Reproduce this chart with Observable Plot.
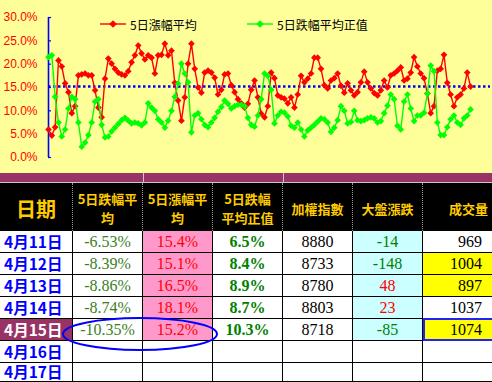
<!DOCTYPE html>
<html><head><meta charset="utf-8">
<script src="https://cdn.jsdelivr.net/npm/d3@7"></script>
<script src="https://cdn.jsdelivr.net/npm/@observablehq/plot@0.6"></script>
<style>
body{margin:0;width:492px;height:382px;overflow:hidden;position:relative;background:#fff;}
#chart{position:absolute;left:0;top:0;}
.leg{position:absolute;top:16px;height:16px;font:12px "Noto Sans CJK TC",sans-serif;color:#000;display:flex;align-items:center;white-space:nowrap;}
.cell{position:absolute;box-sizing:border-box;display:flex;align-items:center;justify-content:center;white-space:nowrap;}
.hd{background:#000;color:#FFCC00;font:bold 13px/19px "Noto Sans CJK TC",sans-serif;text-align:center;border-right:1px dotted #9a9a9a;padding-top:2px;}
.bd{border-right:1px solid #000;border-bottom:1px solid #000;font:16px/1 "Liberation Serif","Times New Roman",serif;}
</style></head>
<body>
<div id="chart"></div>
<script>
// ---- chart data (percent) ----
const riseAvg = [6.0,4.7,6.5,20.8,19.5,15.9,14.0,9.5,11.0,17.6,17.8,18.0,17.6,17.6,14.4,10.7,8.6,16.9,21.2,20.1,19.0,18.2,17.8,17.6,18.5,20.4,21.9,24.0,22.3,21.0,21.9,21.4,18.0,21.9,22.0,24.4,21.9,22.9,16.0,12.2,7.9,12.9,20.1,24.4,19.0,15.0,13.9,18.2,18.6,18.2,17.1,13.5,14.5,17.8,18.0,15.5,14.0,12.5,
  11.6,10.7,11.5,14.5,16.5,12.9,9.4,8.6,11.0,18.2,17.0,13.3,12.9,12.6,11.6,12.9,10.7,13.5,17.5,16.1,16.9,18.0,21.4,21.4,19.0,15.5,14.8,16.5,17.0,18.0,15.4,13.9,15.9,14.4,13.3,14.0,16.1,18.4,16.1,14.8,13.8,13.3,14.4,16.5,15.0,17.6,18.0,18.6,19.3,16.5,16.9,18.2,21.5,19.5,18.0,17.0,13.7,9.5,11.0,18.6,19.0,22.0,16.0,13.5,11.0,12.9,13.5,14.8,18.2,15.2];
const fallAvgAbs = [21.5,21.9,13.0,7.5,4.5,6.0,10.5,13.0,12.5,7.5,2.3,3.2,4.8,7.5,12.0,12.5,7.0,4.3,4.5,5.6,6.4,7.2,8.0,8.5,7.9,7.3,7.5,7.3,6.9,7.5,11.6,10.7,10.0,8.2,7.5,6.4,7.9,10.0,13.0,15.8,20.1,18.0,16.1,5.4,9.0,9.5,8.2,7.0,6.5,7.5,8.5,9.8,10.8,12.2,11.5,10.5,11.0,11.3,
  11.3,11.0,8.5,7.0,6.6,9.0,12.5,18.0,17.5,14.5,7.3,9.0,9.8,9.6,8.8,6.8,6.4,7.5,6.0,4.5,5.8,6.4,7.0,7.7,8.4,8.2,7.5,5.5,6.4,8.0,11.0,10.0,7.3,7.6,10.0,8.0,7.8,8.0,8.4,8.6,8.4,7.5,7.8,9.5,11.1,13.5,12.5,6.8,6.0,12.0,13.5,10.5,7.8,9.0,9.0,9.6,13.7,19.7,18.5,7.5,4.8,4.8,6.5,8.2,9.0,7.5,7.0,8.4,9.0,10.3];
const refLevel = [15.2];
const yTicks = [0,5,10,15,20,25,30];
const seriesNames = ["5日漲幅平均","5日跌幅平均正值"];

// ---- table data ----
const dates = ["4月11日","4月12日","4月13日","4月14日","4月15日","4月16日","4月17日"];
const fallAvgCol = ["-6.53%","-8.39%","-8.86%","-8.74%","-10.35%"];
const riseAvgCol = ["15.4%","15.1%","16.5%","18.1%","15.2%"];
const fallAbsCol = ["6.5%","8.4%","8.9%","8.7%","10.3%"];
const indexCol = ["8880","8733","8780","8803","8718"];
const changeCol = [-14,-148,48,23,-85];
const volumeCol = ["969","1004","897","1037","1074"];
const headers = ["日期","5日跌幅平<br>均","5日漲幅平<br>均","5日跌幅<br>平均正值","加權指數","大盤漲跌","成交量"];

const fmt = d => d.toFixed(1) + "%";
const chart = Plot.plot({
  width: 492, height: 173,
  marginLeft: 48, marginRight: 2, marginTop: 17, marginBottom: 16,
  style: {background: "#FFFF99", fontFamily: "Arial, 'Liberation Sans', sans-serif", fontSize: "12px"},
  x: {domain: [0, 133], axis: null},
  y: {domain: [0, 30], axis: null},
  marks: [
    Plot.axisY({ticks: yTicks, tickFormat: fmt, tickSize: 0, tickPadding: 11, fill: "#FF0000"}),
    Plot.ruleY(yTicks, {x1: 0, x2: 0.9, stroke: "#0000FF", strokeWidth: 1.2}),
    Plot.ruleX([0], {y1: 0, y2: 30, stroke: "#0000FF", strokeWidth: 1.6}),
    Plot.ruleY(refLevel, {stroke: "#0000FF", strokeWidth: 2.5, strokeDasharray: "2.5,2.5"}),
    Plot.line(riseAvg, {x: (d, i) => i, y: d => d, stroke: "#FF0000", strokeWidth: 1.4}),
    Plot.dot(riseAvg, {x: (d, i) => i, y: d => d, symbol: "diamond2", r: 3, fill: "#FF0000", stroke: "none"}),
    Plot.line(fallAvgAbs, {x: (d, i) => i, y: d => d, stroke: "#00FF00", strokeWidth: 1.4}),
    Plot.dot(fallAvgAbs, {x: (d, i) => i, y: d => d, symbol: "diamond2", r: 3, fill: "#00FF00", stroke: "none"})
  ]
});
document.getElementById("chart").appendChild(chart);

// legend
const legColors = ["#FF0000", "#00FF00"];
const legX = [100, 247];
seriesNames.forEach((n, i) => {
  const d = document.createElement("div");
  d.className = "leg";
  d.style.left = legX[i] + "px";
  d.innerHTML = `<svg width="28" height="10" style="margin-right:2px"><line x1="0" y1="5" x2="26" y2="5" stroke="${legColors[i]}" stroke-width="1.4"/><path d="M13 1.2L16.8 5L13 8.8L9.2 5Z" fill="${legColors[i]}"/></svg>${n}`;
  document.body.appendChild(d);
});

// maroon band
function box(l, t, w, h, style) {
  const d = document.createElement("div");
  d.style.cssText = `position:absolute;left:${l}px;top:${t}px;width:${w}px;height:${h}px;` + style;
  document.body.appendChild(d);
  return d;
}
box(0, 173, 492, 9, "background:#993366;");
box(0, 182, 492, 1, "background:#c8c8c8;");
box(143, 173, 1, 9, "background:#c8c8c8;");
box(283, 173, 1, 9, "background:#c8c8c8;");

// table
const cols = [0, 73, 143, 213, 283, 353, 423, 515];
const headTop = 183, headH = 48, rowTop = 231, rowH = 22;
headers.forEach((h, c) => {
  const d = box(cols[c], headTop, cols[c + 1] - cols[c], headH, "");
  d.className = "cell hd";
  if (c === 0) d.style.fontSize = "20px";
  d.innerHTML = h;
});
dates.forEach((dt, r) => {
  const top = rowTop + r * rowH;
  const h = Math.min(rowH, 382 - top);
  const has = r < fallAvgCol.length;
  const cells = [
    {t: dt, bg: r === 4 ? "#993366" : "#fff", col: r === 4 ? "#fff" : "#0000FF", font: 'bold 15.5px/1 "Noto Sans CJK TC",sans-serif', align: "flex-start", pad: "0 0 0 4px"},
    {t: has ? fallAvgCol[r] : "", bg: "#fff", col: "#3A801E"},
    {t: has ? riseAvgCol[r] : "", bg: has ? "#FF99CC" : "#fff", col: "#FF0000"},
    {t: has ? fallAbsCol[r] : "", bg: "#fff", col: "#008000", bold: true},
    {t: has ? indexCol[r] : "", bg: "#fff", col: "#000"},
    {t: has ? String(changeCol[r]) : "", bg: has ? "#CCFFFF" : "#fff", col: has && changeCol[r] > 0 ? "#FF0000" : "#008000"},
    {t: has ? volumeCol[r] : "", bg: has && [1, 2, 4].includes(r) ? "#FFFF00" : "#fff", col: "#000", align: "flex-end", pad: "0 32px 0 0"}
  ];
  cells.forEach((c, i) => {
    const d = box(cols[i], top, cols[i + 1] - cols[i], h, "");
    d.className = "cell bd";
    d.style.background = c.bg;
    d.style.color = c.col;
    if (c.font) d.style.font = c.font;
    if (c.bold) d.style.fontWeight = "bold";
    if (c.align) d.style.justifyContent = c.align;
    if (c.pad) d.style.padding = c.pad;
    d.textContent = c.t;
  });
});
// selection box around 1074
box(423, rowTop + 4 * rowH - 1, 92, rowH + 1, "box-sizing:border-box;border:2px solid #2222FF;");
// ellipse annotation
const ns = "http://www.w3.org/2000/svg";
const sv = document.createElementNS(ns, "svg");
sv.setAttribute("width", 492); sv.setAttribute("height", 382);
sv.style.cssText = "position:absolute;left:0;top:0;pointer-events:none;";
const el = document.createElementNS(ns, "ellipse");
el.setAttribute("cx", 140); el.setAttribute("cy", 334); el.setAttribute("rx", 77); el.setAttribute("ry", 16);
el.setAttribute("fill", "none"); el.setAttribute("stroke", "#0000FF"); el.setAttribute("stroke-width", 2);
sv.appendChild(el);
document.body.appendChild(sv);
</script>
</body></html>
